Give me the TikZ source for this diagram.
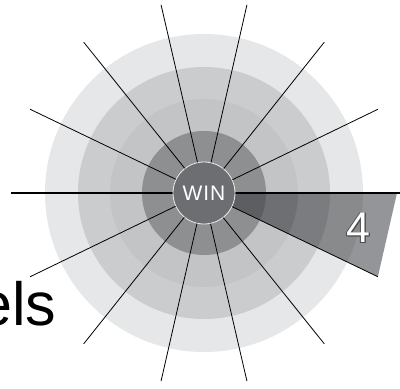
\documentclass[tikz,border=0pt]{standalone}
\usepackage{fontspec}
\setmainfont{Liberation Sans}
\usepackage{tikz}
\usetikzlibrary{shapes}
\definecolor{ringA}{HTML}{E6E7E8}
\definecolor{ringB}{HTML}{CBCCCD}
\definecolor{ringC}{HTML}{C3C4C6}
\definecolor{ringD}{HTML}{8E8F91}
\definecolor{hub}{HTML}{6D6E71}
\definecolor{wedgeA}{HTML}{949598}
\definecolor{wedgeB}{HTML}{898A8C}
\definecolor{wedgeC}{HTML}{7B7C7F}
\definecolor{wedgeD}{HTML}{6E6F72}
\definecolor{wedgeE}{HTML}{5D5E61}
\tikzset{spoke/.style={line width=0.8pt},
  axisline/.style={line width=1.6pt}}

\begin{document}
\begin{tikzpicture}[x=1pt,y=1pt]
\useasboundingbox (-204,-196) rectangle (196,193);
\fill[ringA](0,0)circle(159);
\fill[ringB](0,0)circle(126);
\fill[ringC](0,0)circle(94);
\fill[ringD](0,0)circle(62);
\begin{scope}
\clip(0,0)--(0:193)--(-180/7:193)--cycle;
\fill[wedgeA](0,0)circle(200);
\fill[wedgeB](0,0)circle(159);
\fill[wedgeC](0,0)circle(126);
\fill[wedgeD](0,0)circle(94);
\fill[wedgeE](0,0)circle(62);
\end{scope}
\draw[axisline](180:193)--(200,0);
\node[circle,fill=hub,draw=white!85!gray,line width=0.8pt,minimum size=62pt,inner sep=0pt,
  text=white,font=\fontsize{21}{22}\selectfont](win)at(0,0){W\kern1ptI\kern1ptN};
\foreach \a[evaluate=\a as \t using \a*180/7] in {1,...,6,8,9,...,13}
  \draw[spoke](win.\t)--(\t:193);
\foreach \dx/\dy in {0.6/0.6,-0.6/0.6,0.6/-0.6,-0.6/-0.6,1/-1}
  \node[text=black!70,font=\fontsize{43}{44}\selectfont,xshift=\dx pt,yshift=\dy pt]at(154.5,-35){4};
\node[text=white,font=\fontsize{43}{44}\selectfont](four)at(154.5,-35){4};
\node[anchor=base east,inner sep=0pt,font=\fontsize{61}{64}\selectfont](els)at(-147.7,-132.7){els};
\end{tikzpicture}
\end{document}
